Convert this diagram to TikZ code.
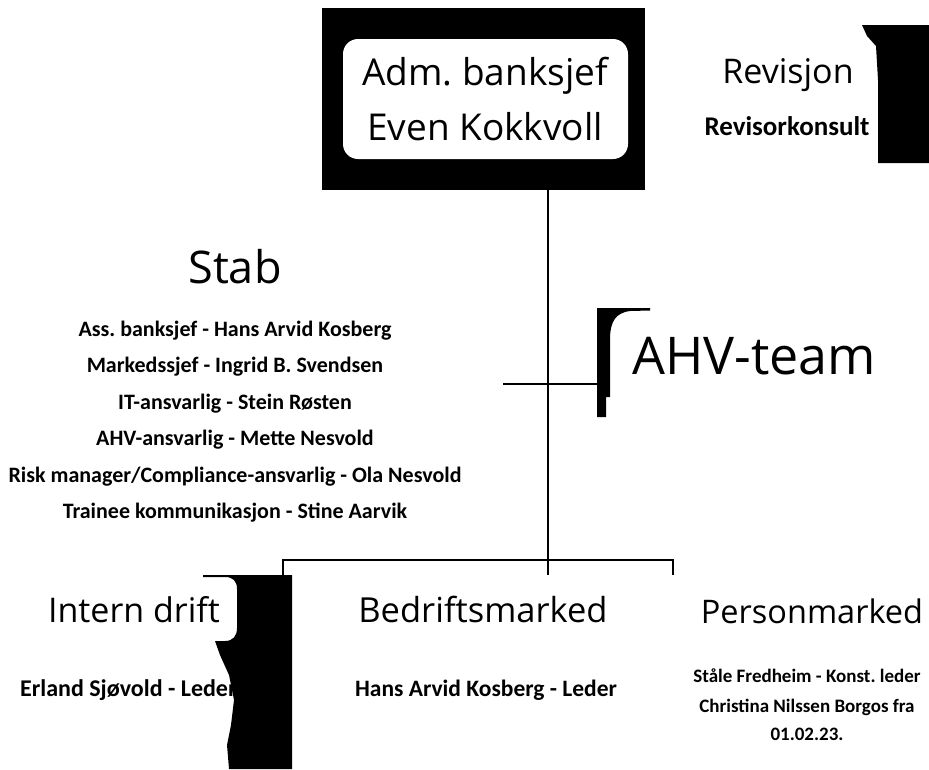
\documentclass[tikz,border=0pt]{standalone}
\usepackage{fontspec}
\setmainfont{Carlito}
\newfontfamily\headfont{Open Sans}
\frenchspacing
\begin{document}
\begin{tikzpicture}[x=1pt,y=-1pt,
  conn/.style={line width=2.5pt,black},
  headtxt/.style={inner sep=0pt,anchor=base,font=\headfont\fontsize{#1}{#1}\selectfont},
  boldtxt/.style={inner sep=0pt,anchor=base,font=\bfseries\fontsize{#1}{#1}\selectfont},
  blot/.style={fill=black,draw=none}]
\useasboundingbox (0,0) rectangle (929,769);

% --- top box (Adm. banksjef)
\fill[black] (322,8) rectangle (645,190);
\fill[white,rounded corners=15pt] (343,39) rectangle (628,159);
\node[headtxt=37] (ceo1) at (485,85) {Adm. banksjef};
\node[headtxt=37] (ceo2) at (485,140) {Even Kokkvoll};

% --- Revisjon
\fill[blot] (862,25) -- (929,25) -- (929,163) -- (878,163) -- (878,80)
  -- (876,46) -- (867,36) -- cycle;
\node[headtxt=34] (rev) at (788,83) {Revisjon};
\node[boldtxt=27] (revk) at (787,135) {Revisorkonsult};

% --- Stab
\node[headtxt=45] (stab) at (235,283) {Stab};
\node[boldtxt=22] (s1) at (235,336) {Ass. banksjef - Hans Arvid Kosberg};
\node[boldtxt=22] (s2) at (235,372.6) {Markedssjef - Ingrid B. Svendsen};
\node[boldtxt=22] (s3) at (235,409) {IT-ansvarlig - Stein Røsten};
\node[boldtxt=22] (s4) at (235,445.6) {AHV-ansvarlig - Mette Nesvold};
\node[boldtxt=22] (s5) at (235,482) {Risk manager/Compliance-ansvarlig - Ola Nesvold};
\node[boldtxt=22] (s6) at (235,518) {Trainee kommunikasjon - Stine Aarvik};

% --- AHV-team
\fill[blot] (597,417) -- (597,308) -- (650,308) -- (650,310.5) -- (630,311)
  .. controls (615,313) and (611,322) .. (610,336) -- (610,397) -- (606,397)
  -- (606,417) -- cycle;
\node[headtxt=52,anchor=base west] (ahv) at (632,374) {AHV-team};

% --- connectors
\coordinate (ceoOut) at (548,190);
\coordinate (bus) at (548,560);
\coordinate (busL) at (283,560);
\coordinate (busR) at (673,560);
\coordinate (stubL) at (283,575);
\coordinate (stubM) at (548,575);
\coordinate (stubR) at (673,575);
\coordinate (ahvL) at (503,384);
\coordinate (ahvR) at (597,384);
\draw[conn] (ceoOut) -- (stubM);
\draw[conn] (ahvL) -- (ahvR);
\draw[conn] (stubL) -- (busL) -- (busR) -- (stubR);

% --- Intern drift
\node[boldtxt=24,anchor=base west] (erl) at (20,696) {Erland Sjøvold - Leder};
\fill[blot] (203,575) -- (292,575) -- (292,769) -- (229,769) -- (227,745)
  -- (231,725) -- (234,700) -- (229,675) -- (220,655) -- (215,641) -- (225,641)
  .. controls (233,641) and (237,636) .. (237,628) -- (237,589)
  .. controls (237,581) and (233,577) .. (225,577) -- (203,577) -- cycle;
\node[headtxt=34] (intern) at (134,622) {Intern drift};

% --- Bedriftsmarked
\node[headtxt=34.5] (bed) at (483,622) {Bedriftsmarked};
\node[boldtxt=23.5] (hans) at (486,696) {Hans Arvid Kosberg - Leder};

% --- Personmarked
\node[headtxt=32.5] (pers) at (812,623) {Personmarked};
\node[boldtxt=19] (p1) at (807,682) {Ståle Fredheim - Konst. leder};
\node[boldtxt=19] (p2) at (807,712) {Christina Nilssen Borgos fra};
\node[boldtxt=19] (p3) at (807,740) {01.02.23.};
\end{tikzpicture}
\end{document}
